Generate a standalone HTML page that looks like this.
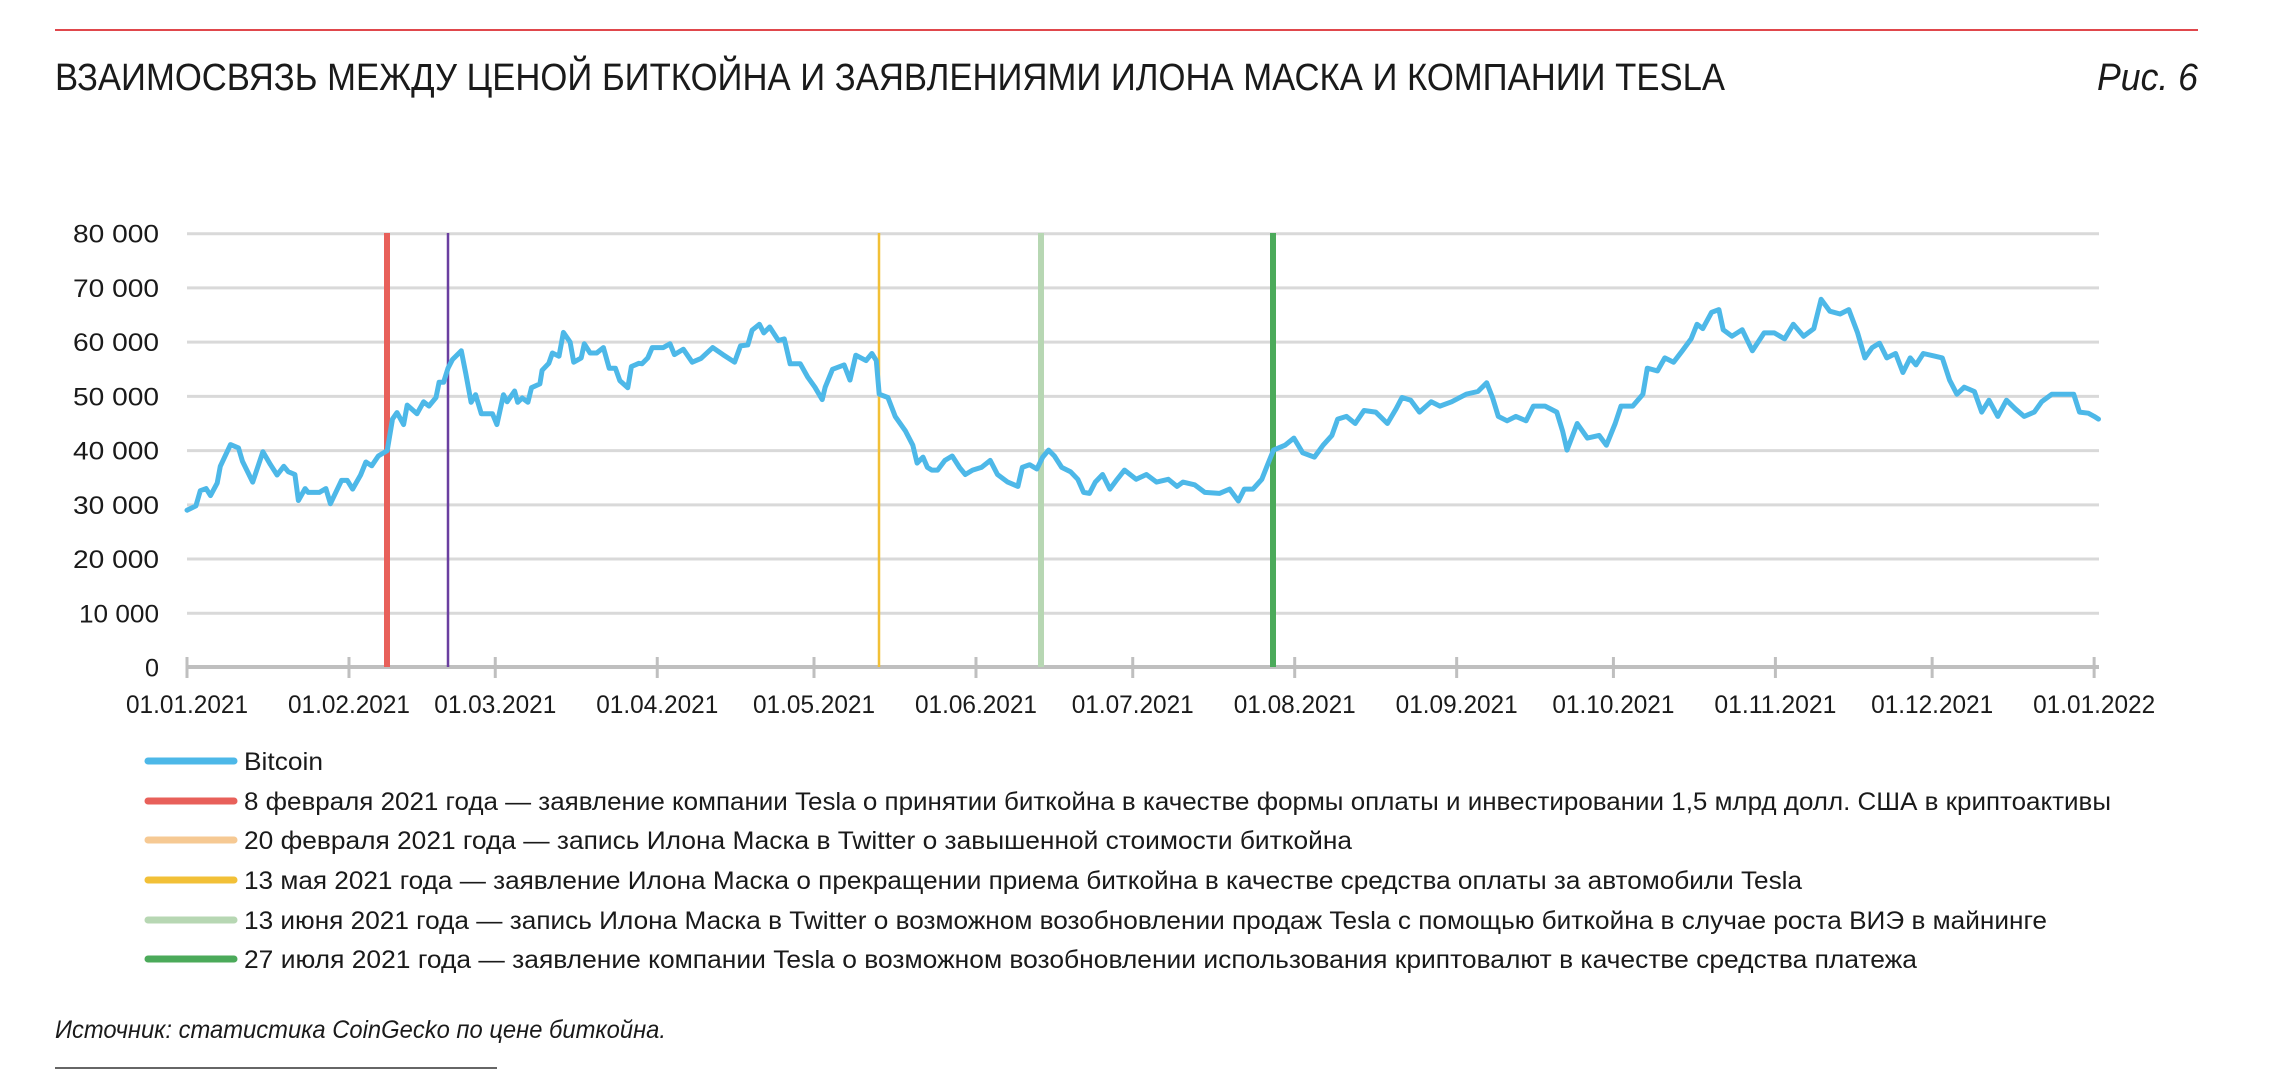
<!DOCTYPE html>
<html><head><meta charset="utf-8"><style>
html,body{margin:0;padding:0;background:#fff;}
svg{display:block;font-family:"Liberation Sans",sans-serif;}
</style></head><body>
<svg id="s" width="2290" height="1070" viewBox="0 0 2290 1070" xmlns="http://www.w3.org/2000/svg">
<line x1="55" y1="30" x2="2198" y2="30" stroke="#e0474c" stroke-width="2"/>
<text x="55" y="90" font-size="38" fill="#1a1a1a" textLength="1670" lengthAdjust="spacingAndGlyphs">ВЗАИМОСВЯЗЬ МЕЖДУ ЦЕНОЙ БИТКОЙНА И ЗАЯВЛЕНИЯМИ ИЛОНА МАСКА И КОМПАНИИ TESLA</text>
<text x="2097" y="90" font-size="38" font-style="italic" fill="#1a1a1a" textLength="101" lengthAdjust="spacingAndGlyphs">Рис. 6</text>
<g id="grid" stroke="#d9d9d9" stroke-width="3"></g>
<g id="ylab" font-size="25" fill="#1a1a1a" text-anchor="end"></g>
<line x1="187" y1="667" x2="2099" y2="667" stroke="#bfbfbf" stroke-width="4"/>
<g id="ticks" stroke="#bfbfbf" stroke-width="3"></g>
<g id="xlab" font-size="25" fill="#1a1a1a" text-anchor="middle"></g>
<g id="vlines"></g>
<polyline id="btc" fill="none" stroke="#4db8e8" stroke-width="5" stroke-linejoin="round" stroke-linecap="round"/>
<g stroke-width="7" stroke-linecap="round">
<line x1="148" y1="761" x2="234" y2="761" stroke="#4db8e8"/>
<line x1="148" y1="801" x2="234" y2="801" stroke="#e8605a"/>
<line x1="148" y1="840" x2="234" y2="840" stroke="#f6c993"/>
<line x1="148" y1="880" x2="234" y2="880" stroke="#f2c037"/>
<line x1="148" y1="920" x2="234" y2="920" stroke="#b7d7b3"/>
<line x1="148" y1="959" x2="234" y2="959" stroke="#4baa5a"/>
</g>
<g font-size="25" fill="#1a1a1a">
<text x="244" y="770" textLength="79" lengthAdjust="spacingAndGlyphs">Bitcoin</text>
<text x="244" y="810" textLength="1867" lengthAdjust="spacingAndGlyphs">8 февраля 2021 года — заявление компании Tesla о принятии биткойна в качестве формы оплаты и инвестировании 1,5 млрд долл. США в криптоактивы</text>
<text x="244" y="849" textLength="1108" lengthAdjust="spacingAndGlyphs">20 февраля 2021 года — запись Илона Маска в Twitter о завышенной стоимости биткойна</text>
<text x="244" y="889" textLength="1558" lengthAdjust="spacingAndGlyphs">13 мая 2021 года — заявление Илона Маска о прекращении приема биткойна в качестве средства оплаты за автомобили Tesla</text>
<text x="244" y="929" textLength="1803" lengthAdjust="spacingAndGlyphs">13 июня 2021 года — запись Илона Маска в Twitter о возможном возобновлении продаж Tesla с помощью биткойна в случае роста ВИЭ в майнинге</text>
<text x="244" y="968" textLength="1673" lengthAdjust="spacingAndGlyphs">27 июля 2021 года — заявление компании Tesla о возможном возобновлении использования криптовалют в качестве средства платежа</text>
</g>
<text x="55" y="1038" font-size="25" font-style="italic" fill="#1a1a1a" textLength="611" lengthAdjust="spacingAndGlyphs">Источник: статистика CoinGecko по цене биткойна.</text>
<line x1="55" y1="1068" x2="497" y2="1068" stroke="#333" stroke-width="1.5"/>
</svg>
<script>
var NS="http://www.w3.org/2000/svg";
function el(p,t,a,txt){var e=document.createElementNS(NS,t);for(var k in a)e.setAttribute(k,a[k]);if(txt!=null)e.textContent=txt;document.getElementById(p).appendChild(e);return e;}
var X0=187,PX=5.225,Y0=667.5,PY=5.4225;
function yv(v){return Y0-v*PY;}
var yl=["0","10 000","20 000","30 000","40 000","50 000","60 000","70 000","80 000"];
for(var i=0;i<=8;i++){ if(i>0) el("grid","line",{x1:187,x2:2099,y1:yv(i*10),y2:yv(i*10)});
 el("ylab","text",{x:159,y:yv(i*10)+9,textLength:i==0?14:(i==1?80:86),lengthAdjust:"spacingAndGlyphs"},yl[i]);}
var md=[0,31,59,90,120,151,181,212,243,273,304,334,365];
var xl=["01.01.2021","01.02.2021","01.03.2021","01.04.2021","01.05.2021","01.06.2021","01.07.2021","01.08.2021","01.09.2021","01.10.2021","01.11.2021","01.12.2021","01.01.2022"];
for(var i=0;i<md.length;i++){var x=X0+md[i]*PX;el("ticks","line",{x1:x,x2:x,y1:657,y2:678});
 el("xlab","text",{x:x,y:713,textLength:122,lengthAdjust:"spacingAndGlyphs"},xl[i]);}
var vls=[[387,"#e8605a",6],[448,"#6a3fa0",2.5],[879,"#f2c037",2.5],[1041,"#b7d7b3",6],[1273,"#4baa5a",6]];
vls.forEach(function(v){el("vlines","line",{x1:v[0],x2:v[0],y1:233,y2:667,stroke:v[1],"stroke-width":v[2]});});
var pts=[];
var z=[[417,29],[437,29.8],[447,32.6],[460,33],[470,31.7],[485,34],[492,37.1],[515,41.1],[533,40.5],[542,38],[565,34.2],[588,39.8],[605,37.4],[620,35.5],[635,37.1],[645,36.1],[660,35.6],[668,30.8],[683,33],[690,32.3],[715,32.3],[730,33],[740,30.2],[765,34.5],[778,34.5],[790,32.9],[808,35.5],[820,37.9],[833,37.2],[848,39],[868,40],[880,45.8],[890,47],[905,44.8],[913,48.4],[935,46.8],[950,49],[962,48.2],[978,49.8],[985,52.6],[995,52.6],[1005,55.2],[1015,56.8],[1035,58.4],[1045,54.2],[1057,48.9],[1067,50.3],[1080,46.8],[1105,46.8],[1115,44.8],[1130,50.3],[1138,49],[1155,51],[1162,48.9],[1172,49.7],[1185,48.9],[1193,51.6],[1212,52.3],[1217,54.8],[1232,56.1],[1240,58],[1255,57.4],[1265,61.8],[1280,60],[1288,56.3],[1305,57.1],[1312,59.7],[1325,58],[1340,58],[1355,59],[1368,55.2],[1382,55.2],[1392,52.9],[1410,51.6],[1418,55.5],[1435,56.1],[1442,56],[1455,57.1],[1465,59],[1490,59],[1505,59.7],[1515,57.7],[1535,58.7],[1555,56.3]];
z.forEach(function(p){pts.push([X0+(p[0]-417)/11.77*PX,yv(p[1])]);});
var d=[[480,57],[488,59],[495,57.7],[503,56.3],[507,59.3],[512,59.5],[515,62.2],[520,63.3],[523,61.7],[527,62.8],[533,60.3],[537,60.6],[541,56],[548,56],[553,53.6],[558,51.7],[563,49.4],[565,51.7],[570,55],[578,55.8],[582,53],[586,57.6],[593,56.6],[597,57.9],[600,56.6],[602,50.4],[608,49.8],[613,46.3],[620,43.6],[625,41],[628,37.7],[632,38.8],[635,36.9],[638,36.4],[642,36.4],[647,38.2],[652,39],[657,36.9],[661,35.6],[666,36.4],[672,36.9],[678,38.2],[683,35.6],[690,34.2],[697,33.4],[700,36.9],[705,37.4],[710,36.6],[714,38.8],[718,40.1],[722,39],[727,36.9],[733,36.1],[738,34.7],[742,32.3],[746,32.1],[750,34.2],[755,35.6],[760,32.9],[765,34.7],[770,36.4],[778,34.7],[785,35.6],[792,34.2],[800,34.7],[806,33.4],[810,34.2],[818,33.7],[825,32.3],[835,32.1],[842,32.9],[848,30.7],[852,32.9],[858,32.9],[864,34.7],[868,37.4],[872,40.1],[880,41],[886,42.3],[892,39.6],[900,38.8],[906,41],[912,42.8],[916,45.8],[922,46.3],[928,45],[934,47.4],[942,47.1],[950,45],[956,47.7],[960,49.8],[966,49.3],[972,47.1],[980,49],[986,48.2],[994,49],[1004,50.4],[1012,50.9],[1018,52.5],[1022,49.8],[1026,46.3],[1032,45.5],[1038,46.3],[1045,45.5],[1050,48.2],[1058,48.2],[1066,47.1],[1070,43.6],[1073,40.1],[1080,45],[1087,42.3],[1095,42.8],[1100,41],[1106,45],[1110,48.2],[1118,48.2],[1125,50.4],[1128,55.2],[1135,54.7],[1140,57.1],[1146,56.3],[1152,58.4],[1158,60.6],[1162,63.3],[1166,62.5],[1172,65.5],[1177,66],[1180,62.3],[1186,61.1],[1193,62.3],[1200,58.4],[1208,61.7],[1215,61.7],[1222,60.6],[1228,63.3],[1235,61.1],[1242,62.5],[1247,67.9],[1253,65.7],[1260,65.2],[1266,66],[1272,61.7],[1277,57.1],[1282,59],[1287,59.8],[1292,57.1],[1298,57.9],[1303,54.4],[1308,57.1],[1312,55.8],[1317,57.9],[1325,57.4],[1330,57.1],[1335,53],[1340,50.4],[1345,51.7],[1352,50.9],[1357,47.1],[1362,49.3],[1368,46.3],[1374,49.3],[1380,47.7],[1386,46.3],[1393,47.1],[1398,49],[1405,50.4],[1413,50.4],[1420,50.4],[1424,47.1],[1430,46.9],[1434,46.3],[1437,45.8]];
d.forEach(function(p){pts.push([X0+(p[0]-128)*1.4603,yv(p[1])]);});
document.getElementById("btc").setAttribute("points",pts.map(function(p){return p[0].toFixed(1)+","+p[1].toFixed(1);}).join(" "));
</script>
</body></html>
